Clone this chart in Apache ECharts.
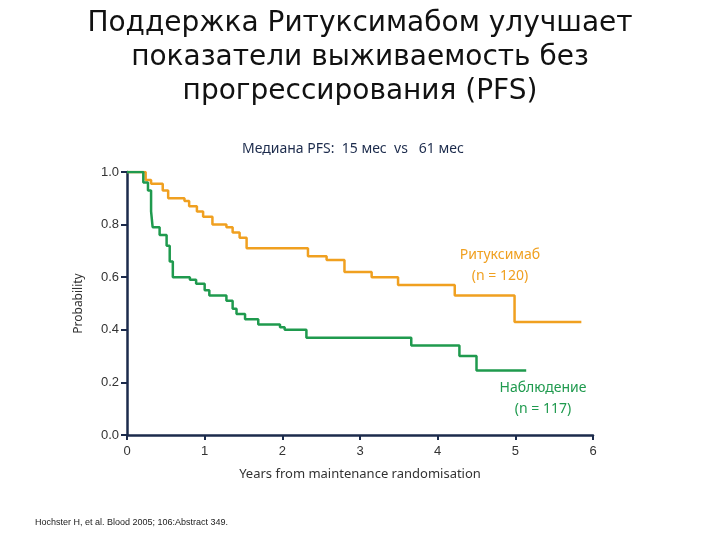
<!DOCTYPE html>
<html>
<head>
<meta charset="utf-8">
<script src="https://cdn.jsdelivr.net/npm/echarts@6/dist/echarts.min.js"></script>
<style>html,body{margin:0;padding:0;background:#fff}#main{width:720px;height:540px}</style>
</head>
<body>
<div id="main"></div>
<script>
// [years, probability] - KM steps
const rituximab = [[0,1],[0.18,1],[0.24,0.97],[0.31,0.955],[0.46,0.93],[0.53,0.9],[0.74,0.89],[0.8,0.87],[0.9,0.85],[0.98,0.83],[1.1,0.8],[1.28,0.79],[1.36,0.77],[1.45,0.75],[1.54,0.71],[2.33,0.68],[2.57,0.665],[2.8,0.62],[3.15,0.6],[3.49,0.57],[4.22,0.53],[4.99,0.43],[5.85,0.43]];
const observation = [[0,1],[0.15,1],[0.21,0.96],[0.27,0.93],[0.31,0.85],[0.33,0.79],[0.42,0.76],[0.51,0.72],[0.55,0.66],[0.59,0.6],[0.81,0.59],[0.89,0.575],[1.0,0.55],[1.06,0.53],[1.28,0.51],[1.36,0.48],[1.41,0.46],[1.52,0.44],[1.69,0.42],[1.97,0.41],[2.03,0.4],[2.31,0.37],[3.66,0.34],[4.28,0.30],[4.5,0.245],[5.14,0.245]];
const xTicks = [0,1,2,3,4,5,6];
const yTicks = [0,0.2,0.4,0.6,0.8,1.0];

const axisCol = '#1c2b4c';
const chart = echarts.init(document.getElementById('main'));
chart.setOption({
  backgroundColor: '#fff',
  animation: false,
  title: [{
    text: 'Поддержка Ритуксимабом улучшает\nпоказатели выживаемость без\nпрогрессирования (PFS)',
    left: 'center', top: 2,
    textStyle: { fontFamily: 'DejaVu Sans', fontWeight: 'normal', fontSize: 28, lineHeight: 34, color: '#111' }
  }, {
    text: 'Медиана PFS:  15 мес  vs   61 мес',
    left: 237, top: 137,
    textStyle: { fontFamily: 'Noto Sans', fontWeight: 'normal', fontSize: 14, color: '#1c2b4c' }
  }],
  grid: { left: 127, right: 127, top: 172, bottom: 105 },
  xAxis: {
    type: 'value', min: 0, max: 6, interval: 1,
    name: 'Years from maintenance randomisation', nameLocation: 'middle', nameGap: 33,
    nameTextStyle: { fontSize: 13, color: '#333', fontFamily: 'Noto Sans' },
    axisLine: { lineStyle: { color: axisCol, width: 2.5 } },
    axisTick: { lineStyle: { color: axisCol, width: 2 }, length: 5 },
    axisLabel: { color: '#333', fontSize: 13, margin: 10, formatter: v => xTicks.includes(v) ? String(v) : '' },
    splitLine: { show: false }
  },
  yAxis: {
    type: 'value', min: 0, max: 1, interval: 0.2,
    name: 'Probability', nameLocation: 'middle', nameGap: 42,
    nameTextStyle: { fontSize: 12, color: '#333', fontFamily: 'Noto Sans' },
    axisLine: { show: true, lineStyle: { color: axisCol, width: 2.5 } },
    axisTick: { show: true, inside: false, length: 6, lineStyle: { color: axisCol, width: 2 } },
    axisLabel: { color: '#333', fontSize: 13, formatter: v => yTicks.some(t => Math.abs(t - v) < 1e-9) ? v.toFixed(1) : '' },
    splitLine: { show: false }
  },
  series: [{
    type: 'line', step: 'end', data: rituximab, showSymbol: false,
    lineStyle: { color: '#f0a020', width: 2.5 }, z: 3
  }, {
    type: 'line', step: 'end', data: observation, showSymbol: false,
    lineStyle: { color: '#1f9a4e', width: 2.5 }, z: 4
  }],
  graphic: [
    { type: 'text', x: 500, y: 245, style: { text: 'Ритуксимаб\n(n = 120)', textAlign: 'center', fill: '#f0a020', fontSize: 14, lineHeight: 21, fontFamily: 'Noto Sans' } },
    { type: 'text', x: 543, y: 378, style: { text: 'Наблюдение\n(n = 117)', textAlign: 'center', fill: '#1f9a4e', fontSize: 14, lineHeight: 21, fontFamily: 'Noto Sans' } },
    { type: 'text', x: 35, y: 518, style: { text: 'Hochster H, et al. Blood 2005; 106:Abstract 349.', fill: '#222', fontSize: 9, fontFamily: 'Liberation Sans' } }
  ]
});
</script>
</body>
</html>
